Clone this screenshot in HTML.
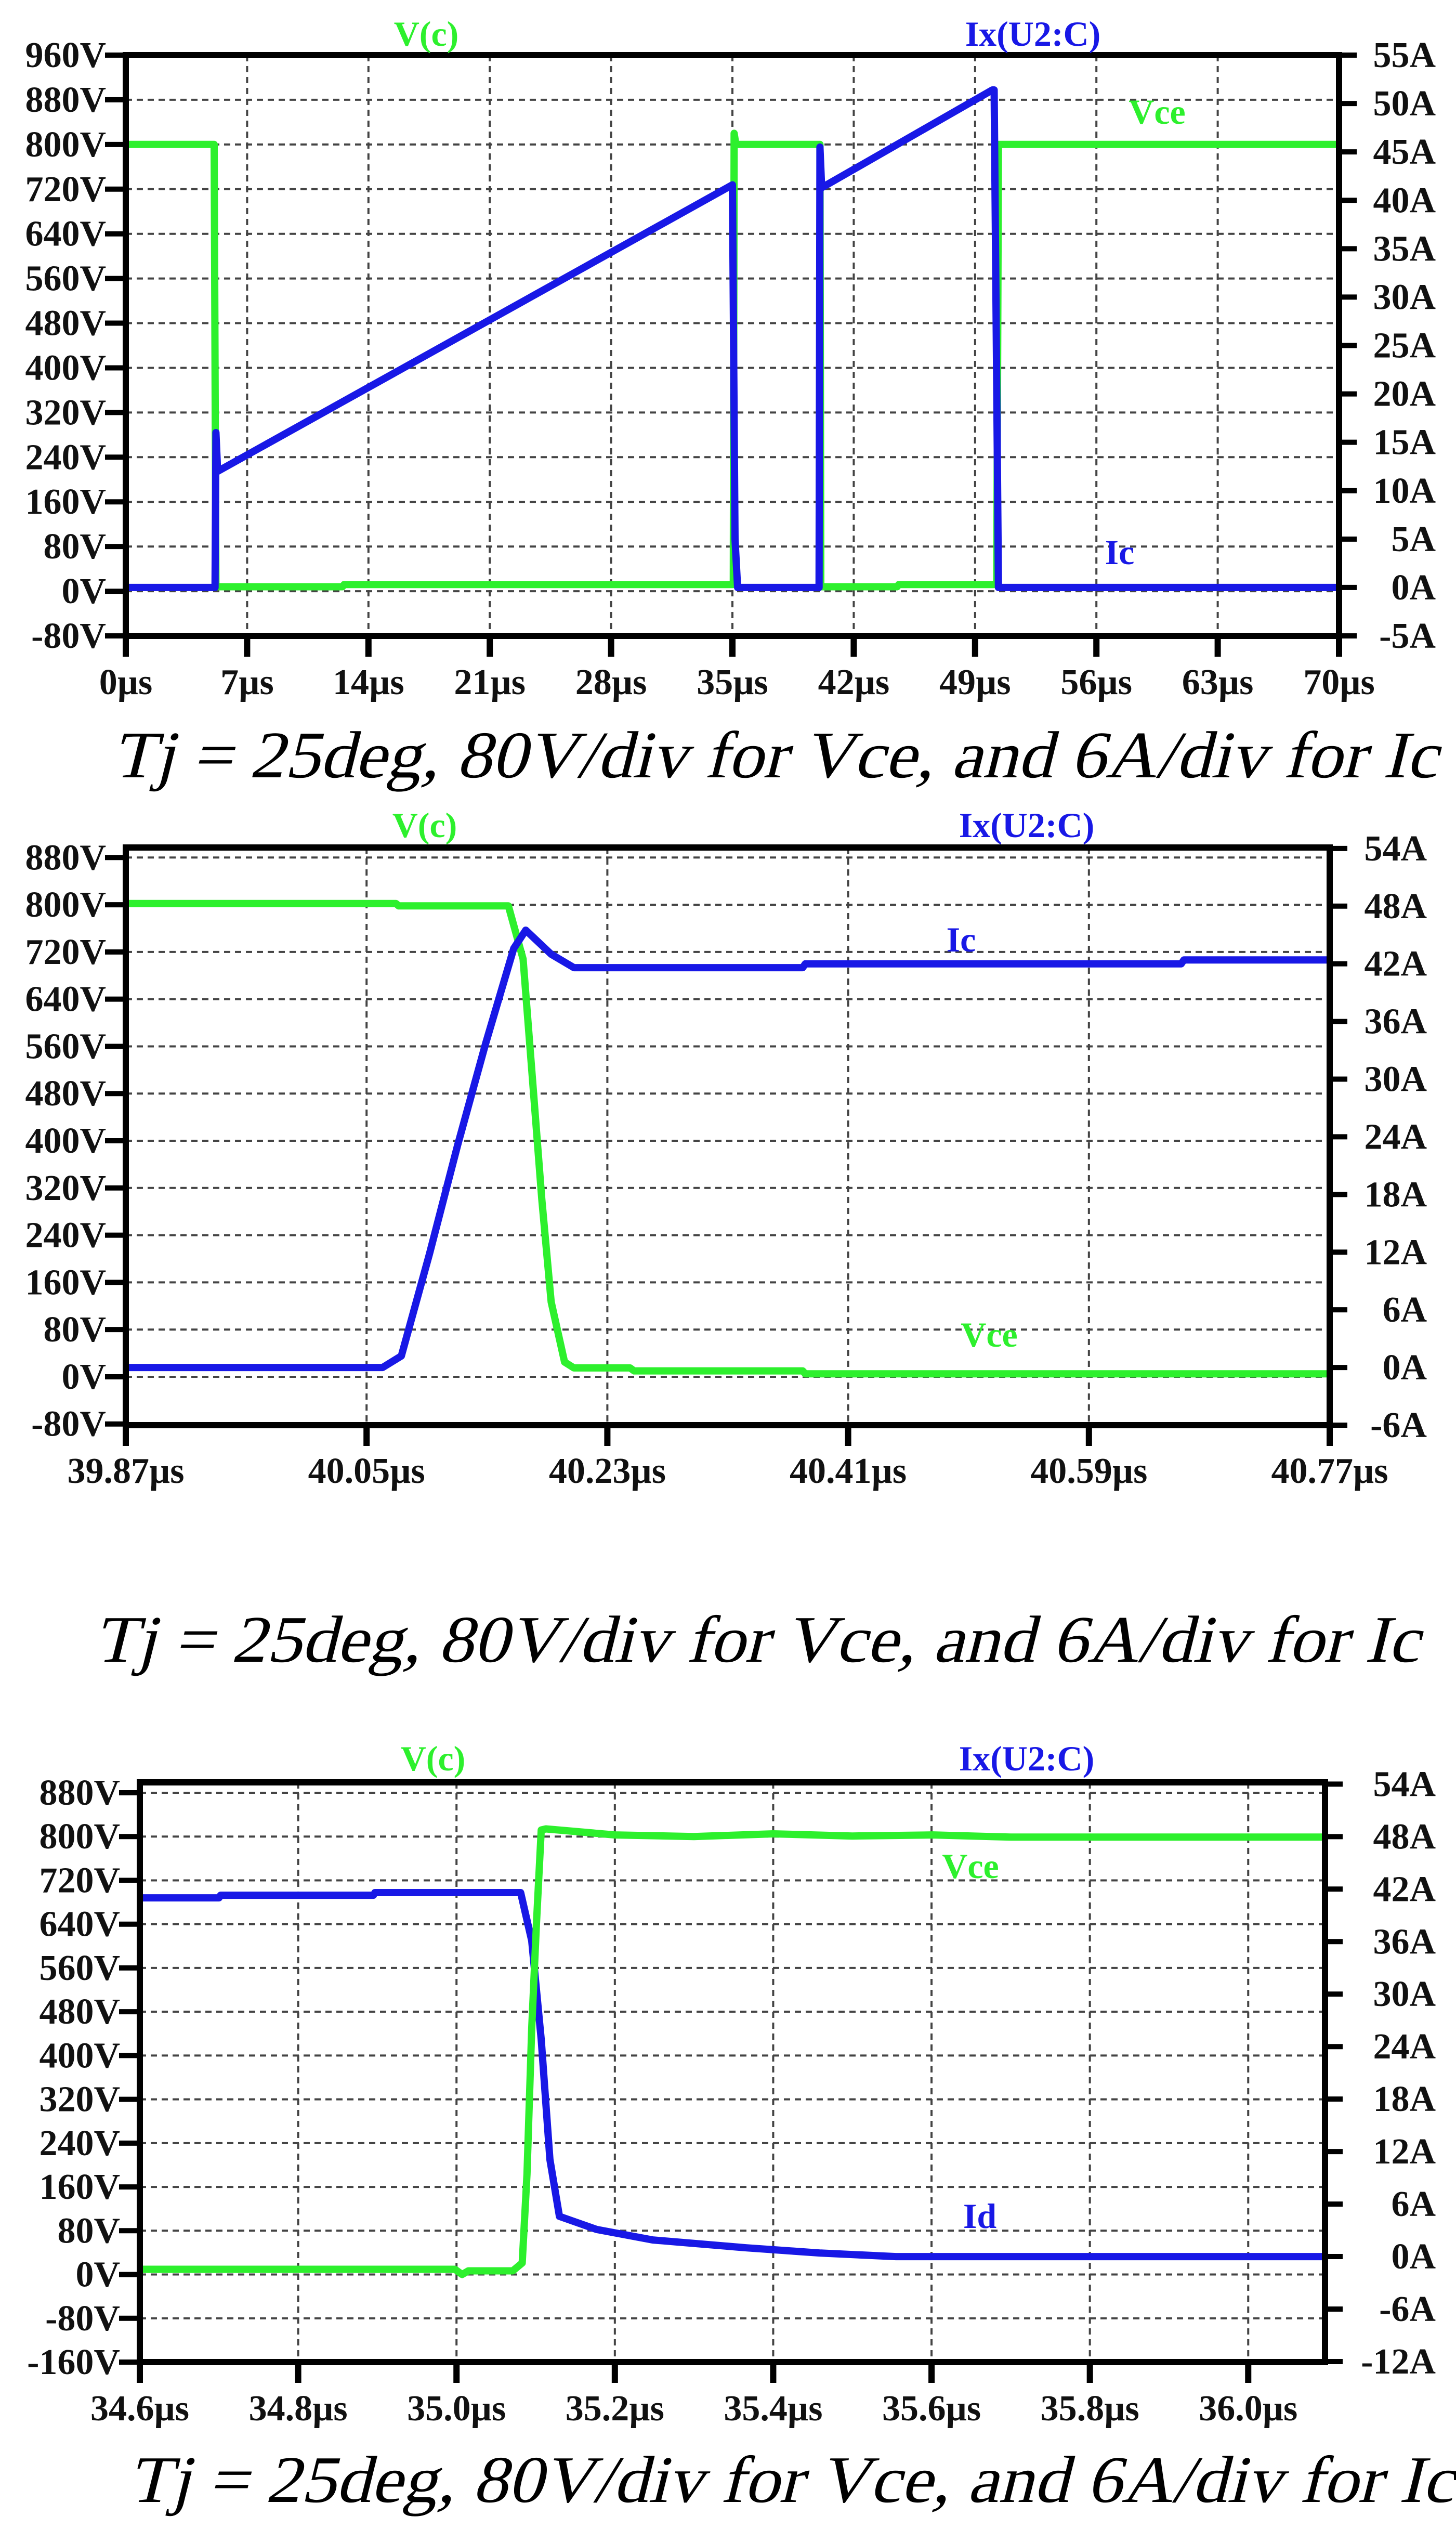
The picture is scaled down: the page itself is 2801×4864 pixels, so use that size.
<!DOCTYPE html>
<html><head><meta charset="utf-8"><title>IGBT switching waveforms</title>
<style>
html,body{margin:0;padding:0;background:#fff;}
svg{display:block;}
text{font-family:"Liberation Serif",serif;}
</style></head>
<body>
<svg id="root" xmlns="http://www.w3.org/2000/svg" width="2801" height="4864" viewBox="0 0 2801 4864"></svg>
<script>
// ---------- Chart 1 data ----------
const c1XTicks = [0,7,14,21,28,35,42,49,56,63,70];
const c1VTicks = [960,880,800,720,640,560,480,400,320,240,160,80,0,-80];
const c1ATicks = [55,50,45,40,35,30,25,20,15,10,5,0,-5];
const c1VceT = [0,5.1,5.2,12.5,12.6,35.05,35.1,35.2,40.05,40.1,44.5,44.6,50.25,50.35,70];
const c1VceV = [800,800,8,8,12,12,820,800,800,8,8,12,12,800,800];
const c1IcT = [0,5.15,5.2,5.3,35.0,35.15,35.3,40.0,40.05,40.15,50.0,50.1,50.35,70];
const c1IcA = [0,0,16,12,41.6,5,0,0,45.5,41.3,51.4,51.4,0,0];
// ---------- Chart 2 data ----------
const c2XTicks = [39.87,40.05,40.23,40.41,40.59,40.77];
const c2VTicks = [880,800,720,640,560,480,400,320,240,160,80,0,-80];
const c2ATicks = [54,48,42,36,30,24,18,12,6,0,-6];
const c2VceT = [39.87,40.072,40.074,40.156,40.167,40.174,40.181,40.188,40.198,40.205,40.247,40.25,40.376,40.378,40.77];
const c2VceV = [802,802,798,798,708,505,301,127,25,15,15,10,10,5,5];
const c2IcT = [39.87,40.062,40.076,40.097,40.118,40.139,40.160,40.169,40.188,40.205,40.376,40.378,40.659,40.661,40.77];
const c2IcA = [0,0,1.2,11.8,23.1,33.7,43.6,45.5,43.0,41.6,41.6,42.0,42.0,42.4,42.4];
// ---------- Chart 3 data ----------
const c3XTicks = [34.6,34.8,35.0,35.2,35.4,35.6,35.8,36.0];
const c3VTicks = [880,800,720,640,560,480,400,320,240,160,80,0,-80,-160];
const c3ATicks = [54,48,42,36,30,24,18,12,6,0,-6,-12];
const c3VceT = [34.6,34.998,35.007,35.015,35.071,35.083,35.089,35.095,35.101,35.107,35.113,35.2,35.3,35.4,35.5,35.602,35.7,36.097];
const c3VceV = [9.5,9.5,0,6.7,6.7,21,183,450,641,812,814,803,800,805,801,803,799,799];
const c3IcT = [34.6,34.70,34.702,34.895,34.897,35.081,35.095,35.107,35.118,35.130,35.177,35.248,35.366,35.460,35.555,36.097];
const c3IcA = [41.0,41.0,41.3,41.3,41.6,41.6,36.1,24.8,11.1,4.6,3.1,1.9,1.0,0.4,0,0];

const NS = "http://www.w3.org/2000/svg";
const root = document.getElementById('root');
const GREEN = "#2df02d", BLUE = "#1818e6";
function mk(tag, attrs, parent){
  const e = document.createElementNS(NS, tag);
  for (const k in attrs) e.setAttribute(k, attrs[k]);
  (parent||root).appendChild(e);
  return e;
}

function drawChart(cfg){
  const g = mk('g', {});
  
  
  const L=cfg.left,R=cfg.right,T=cfg.top,B=cfg.bottom;
  const sx = t => L + (t - cfg.xmin)/(cfg.xmax-cfg.xmin)*(R-L);
  const sv = v => B - (v - cfg.vmin)/(cfg.vmax-cfg.vmin)*(B-T);
  const sa = a => B - (a - cfg.amin)/(cfg.amax-cfg.amin)*(B-T);
  cfg.vTicks.forEach(v=>{
    const y = sv(v);
    if (Math.abs(y-B)>3 && Math.abs(y-T)>3){
      const l = mk('line',{x1:L,x2:R,y1:y,y2:y,stroke:'#444','stroke-width':4,'stroke-dasharray':'12 9'},g);
      
      
    }
    const tk = mk('line',{x1:L-40,x2:L,y1:y,y2:y,stroke:'#000','stroke-width':10},g);
    
    
    const tx = mk('text',{x:L-38,y:y+23,'text-anchor':'end','font-size':70,'font-weight':'bold',fill:'#111'},g);
    tx.textContent = v + 'V';
    
    
  });
  cfg.xTicks.forEach(t=>{
    const x = sx(t);
    if (Math.abs(x-L)>3 && Math.abs(x-R)>3){
      const l = mk('line',{x1:x,x2:x,y1:T,y2:B,stroke:'#444','stroke-width':4,'stroke-dasharray':'12 9'},g);
      
      
    }
    const tk = mk('line',{x1:x,x2:x,y1:B,y2:B+40,stroke:'#000','stroke-width':12},g);
    
    
    const tx = mk('text',{x:x,y:cfg.xLabelY,'text-anchor':'middle','font-size':70,'font-weight':'bold',fill:'#111'},g);
    tx.textContent = t.toFixed(cfg.xDec) + 'µs';
    
    
  });
  cfg.aTicks.forEach(a=>{
    const y = sa(a);
    const tk = mk('line',{x1:R,x2:R+34,y1:y,y2:y,stroke:'#000','stroke-width':10},g);
    
    
    const tx = mk('text',{x:cfg.rLabelX,y:y+23,'text-anchor':'end','font-size':70,'font-weight':'bold',fill:'#111'},g);
    tx.textContent = a + 'A';
    
    
  });
  const clip = 'clip-'+cfg.name;
  const cp = mk('clipPath',{id:clip},g);
  mk('rect',{x:L,y:T,width:R-L,height:B-T},cp);
  const series = [[cfg.vceT,cfg.vceV,sv,GREEN,'vce-line'],[cfg.icT,cfg.icA,sa,BLUE,'ic-line']];
  const order = cfg.blueFirst ? [series[1],series[0]] : series;
  order.forEach(([ts,vs,sy,col,nm])=>{
    const d = ts.map((t,i)=>(i?'L':'M')+sx(t).toFixed(1)+' '+sy(vs[i]).toFixed(1)).join(' ');
    const p = mk('path',{d:d,fill:'none',stroke:col,'stroke-width':14,'stroke-linejoin':'round','clip-path':'url(#'+clip+')'},g);
    
    
  });
  const fr = mk('rect',{x:L,y:T,width:R-L,height:B-T,fill:'none',stroke:'#000','stroke-width':12},g);
  
  
  const t1 = mk('text',{x:cfg.vcX,y:cfg.titleY,'text-anchor':'middle','font-size':68,'font-weight':'bold',fill:GREEN},g);
  t1.textContent='V(c)';
  
  
  const t2 = mk('text',{x:cfg.ixX,y:cfg.titleY,'text-anchor':'middle','font-size':68,'font-weight':'bold',fill:BLUE},g);
  t2.textContent='Ix(U2:C)';
  
  
  const a1 = mk('text',{x:cfg.vceLbl[0],y:cfg.vceLbl[1],'text-anchor':'middle','font-size':68,'font-weight':'bold',fill:GREEN},g);
  a1.textContent='Vce';
  
  
  const a2 = mk('text',{x:cfg.icLbl[0],y:cfg.icLbl[1],'text-anchor':'middle','font-size':68,'font-weight':'bold',fill:BLUE},g);
  a2.textContent=cfg.icName;
  
  
  const cg = mk('g',{transform:'translate('+cfg.cap[0]+','+cfg.cap[1]+') skewX(-14)'},g);
  const cap = mk('text',{x:0,y:0,'font-size':128,fill:'#000',textLength:cfg.cap[2],lengthAdjust:'spacingAndGlyphs'},cg);
  cap.textContent='Tj = 25deg, 80V/div for Vce, and 6A/div for Ic';
  
  
}

drawChart({name:'turn-on-off-overview-chart',left:242,right:2576,top:106,bottom:1223,
  xmin:0,xmax:70,vmin:-80,vmax:960,amin:-5,amax:55,xDec:0,
  xTicks:c1XTicks,vTicks:c1VTicks,aTicks:c1ATicks,
  vceT:c1VceT,vceV:c1VceV,icT:c1IcT,icA:c1IcA,
  xLabelY:1335,rLabelX:2762,titleY:88,vcX:820,ixX:1987,
  vceLbl:[2226,238],icLbl:[2154,1085],icName:'Ic',cap:[215,1495,2550]});

drawChart({name:'turn-on-detail-chart',left:242,right:2558,top:1630,bottom:2741,
  xmin:39.87,xmax:40.77,vmin:-82,vmax:897,amin:-6,amax:54.1,xDec:2,
  xTicks:c2XTicks,vTicks:c2VTicks,aTicks:c2ATicks,
  vceT:c2VceT,vceV:c2VceV,icT:c2IcT,icA:c2IcA,
  xLabelY:2852,rLabelX:2745,titleY:1610,vcX:817,ixX:1975,
  vceLbl:[1903,2590],icLbl:[1849,1830],icName:'Ic',cap:[180,3196,2550]});

drawChart({name:'turn-off-detail-chart',left:269,right:2549,top:3428,bottom:4543,
  xmin:34.6,xmax:36.097,vmin:-160,vmax:899,amin:-12.06,amax:54.2,xDec:1,
  xTicks:c3XTicks,vTicks:c3VTicks,aTicks:c3ATicks,
  vceT:c3VceT,vceV:c3VceV,icT:c3IcT,icA:c3IcA,blueFirst:true,
  xLabelY:4655,rLabelX:2762,titleY:3405,vcX:833,ixX:1975,
  vceLbl:[1867,3612],icLbl:[1885,4285],icName:'Id',cap:[246,4812,2550]});
</script>
</body></html>
